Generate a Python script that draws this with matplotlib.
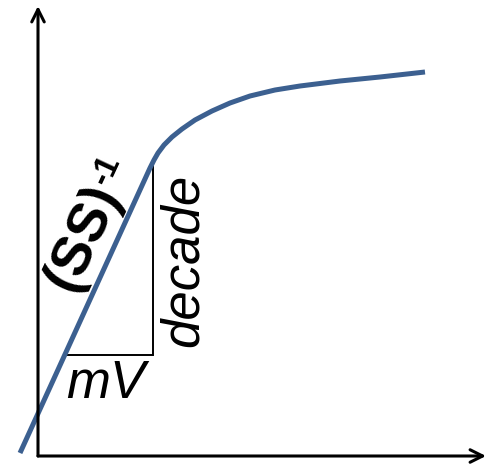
import matplotlib.pyplot as plt
import numpy as np

plt.rcParams['font.family'] = ['Liberation Sans', 'DejaVu Sans']

# curve, axis-corner origin, y up
curve_x = [-18, 112, 116, 120, 126, 134, 144, 157, 174, 192, 212, 237, 262, 302, 342, 387]
curve_y = [3, 288, 296, 303, 311, 319, 327, 336, 345, 353, 360, 366, 370, 375, 379, 384]

# slope triangle corners
tri_x = [27, 115, 115]
tri_y = [101, 101, 293]

x_axis_end = 448
y_axis_end = 450

fig = plt.figure(figsize=(4.9, 4.68), dpi=100)
ax = fig.add_axes([0, 0, 1, 1])
ax.set_xlim(-38, 452)
ax.set_ylim(-12, 456)
ax.axis('off')

# axes with open arrow heads
arrow = dict(arrowstyle='->,head_length=0.9,head_width=0.45', lw=2.2, color='black',
             shrinkA=0, shrinkB=0)
ax.annotate('', xy=(x_axis_end, 0), xytext=(0, 0), arrowprops=arrow)
ax.annotate('', xy=(0, y_axis_end), xytext=(0, 0), arrowprops=arrow)

ax.plot(tri_x, tri_y, color='black', lw=1.4, solid_joinstyle='miter')
ax.plot(curve_x, curve_y, color='#3C6090', lw=3.6, solid_capstyle='butt')

ax.text(146, 196, 'decade', rotation=90, fontsize=38, style='italic',
        ha='center', va='center')
ax.text(68, 72, 'mV', style='italic', fontsize=38, ha='center', va='center')
ax.text(45, 218, '(SS)', rotation=65, fontsize=40, fontweight='bold',
        ha='center', va='center', rotation_mode='anchor')
ax.text(68, 286, '-1', rotation=65, fontsize=24, fontweight='bold',
        ha='center', va='center', rotation_mode='anchor')

fig.savefig('out.png', dpi=100)
